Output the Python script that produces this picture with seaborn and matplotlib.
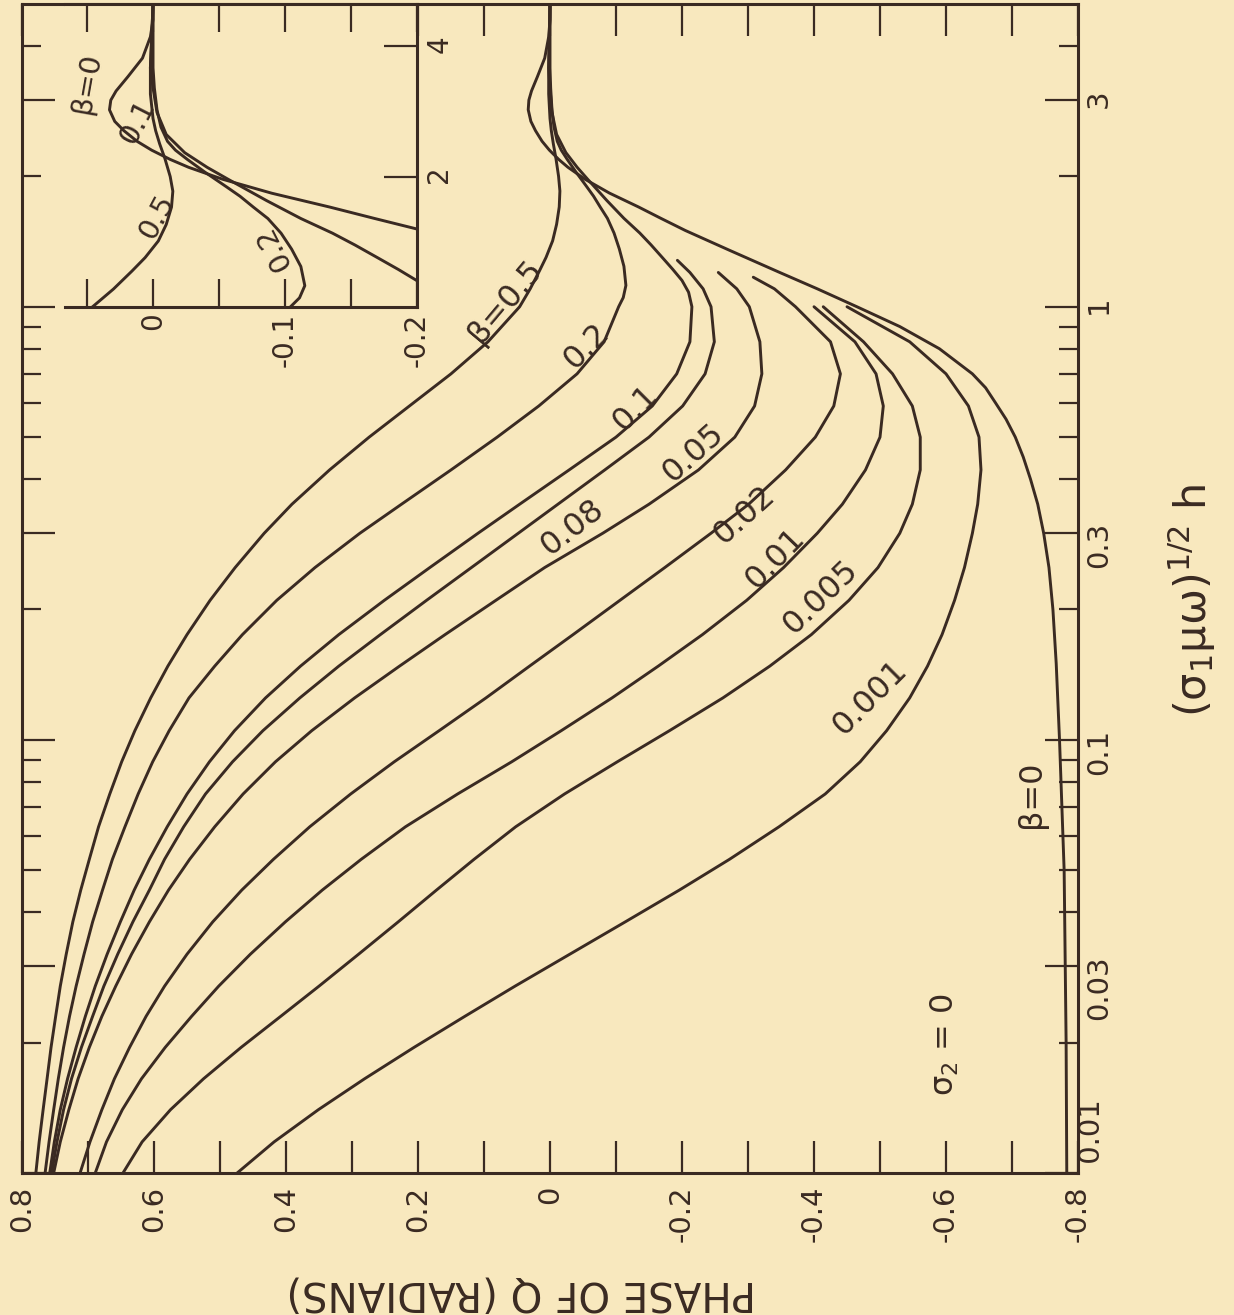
import matplotlib
matplotlib.use("Agg")
import matplotlib.pyplot as plt
import seaborn as sns
import pandas as pd
from matplotlib.ticker import FixedLocator, FixedFormatter, NullFormatter

BG = "#F8E8BE"
INK = "#3A2A22"

# ---- data: h = (sigma1*mu*omega)^1/2 h, phase of Q in radians ----
h_grid = [0.01, 0.0118, 0.014, 0.0165, 0.0195, 0.023, 0.027, 0.032, 0.038, 0.045, 0.053, 0.063, 0.075,
          0.089, 0.105, 0.125, 0.148, 0.175, 0.21, 0.25, 0.3, 0.35, 0.42, 0.5, 0.59, 0.7, 0.83, 1.0]

h_b0 = [0.01, 0.02, 0.05, 0.1, 0.15, 0.2, 0.25, 0.3, 0.35, 0.4, 0.45, 0.5, 0.55, 0.6, 0.65, 0.7, 0.8, 0.9,
        1.0, 1.1, 1.2, 1.35, 1.5, 1.6, 1.7, 1.83, 1.97, 2.1, 2.19, 2.3, 2.41, 2.55, 2.68, 2.85, 3.0, 3.15,
        3.4, 3.75, 4.2, 4.6, 5.0]
p_b0 = [-0.783, -0.782, -0.779, -0.772, -0.767, -0.762, -0.756, -0.748, -0.739, -0.728, -0.717, -0.705,
        -0.691, -0.675, -0.660, -0.640, -0.590, -0.530, -0.465, -0.405, -0.348, -0.272, -0.205, -0.168,
        -0.134, -0.090, -0.053, -0.027, -0.013, 0.001, 0.012, 0.022, 0.029, 0.033, 0.032, 0.028, 0.019,
        0.008, 0.002, 0.0, 0.0]

p_b0001 = [0.474, 0.418, 0.351, 0.281, 0.206, 0.129, 0.053, -0.030, -0.114, -0.196, -0.272, -0.347, -0.417,
           -0.470, -0.510, -0.545, -0.572, -0.594, -0.613, -0.628, -0.640, -0.648, -0.653, -0.650, -0.634,
           -0.600, -0.545, -0.450]

p_b0005 = [0.647, 0.618, 0.575, 0.525, 0.468, 0.408, 0.350, 0.290, 0.230, 0.172, 0.115, 0.052, -0.022,
           -0.102, -0.181, -0.262, -0.333, -0.396, -0.453, -0.497, -0.530, -0.549, -0.561, -0.561, -0.549,
           -0.519, -0.475, -0.414]

p_b001 = [0.689, 0.672, 0.648, 0.619, 0.583, 0.543, 0.502, 0.454, 0.401, 0.345, 0.286, 0.219, 0.140,
          0.058, -0.017, -0.094, -0.164, -0.231, -0.298, -0.354, -0.405, -0.443, -0.478, -0.500, -0.505,
          -0.494, -0.462, -0.400]

p_b002 = [0.712, 0.697, 0.679, 0.660, 0.637, 0.612, 0.584, 0.550, 0.511, 0.467, 0.419, 0.364, 0.302,
          0.236, 0.168, 0.097, 0.031, -0.035, -0.106, -0.174, -0.244, -0.301, -0.357, -0.402, -0.430,
          -0.440, -0.425, -0.372]
h_b002_top = [1.1, 1.17]
p_b002_top = [-0.340, -0.308]

p_b005 = [0.752, 0.742, 0.729, 0.715, 0.698, 0.679, 0.658, 0.634, 0.607, 0.578, 0.546, 0.508, 0.465,
          0.416, 0.361, 0.296, 0.228, 0.159, 0.082, 0.008, -0.080, -0.150, -0.225, -0.280, -0.310,
          -0.321, -0.318, -0.302]
h_b005_top = [1.1, 1.2]
p_b005_top = [-0.283, -0.255]

p_b008 = [0.755, 0.747, 0.737, 0.725, 0.710, 0.693, 0.676, 0.655, 0.632, 0.607, 0.584, 0.555, 0.522,
          0.481, 0.435, 0.379, 0.320, 0.257, 0.187, 0.119, 0.048, -0.012, -0.083, -0.150, -0.201,
          -0.235, -0.249, -0.244]
h_b008_top = [1.1, 1.2, 1.28]
p_b008_top = [-0.232, -0.212, -0.193]

p_b01 = [0.758, 0.751, 0.742, 0.731, 0.718, 0.704, 0.689, 0.671, 0.651, 0.630, 0.607, 0.580, 0.550,
         0.516, 0.478, 0.431, 0.378, 0.320, 0.251, 0.182, 0.109, 0.046, -0.029, -0.100, -0.155, -0.192,
         -0.212, -0.215]
h_b01_top = [1.08, 1.15, 1.22, 1.3, 1.39, 1.48, 1.6, 1.76, 1.97, 2.1, 2.27, 2.5, 2.81, 3.2, 3.56, 4.2, 5.0]
p_b01_top = [-0.210, -0.200, -0.186, -0.170, -0.153, -0.136, -0.112, -0.086, -0.057, -0.041, -0.024,
             -0.010, -0.003, 0.0, 0.002, 0.001, 0.0]

p_b02 = [0.765, 0.759, 0.752, 0.745, 0.737, 0.728, 0.718, 0.706, 0.693, 0.678, 0.663, 0.644, 0.624,
         0.602, 0.577, 0.547, 0.508, 0.466, 0.414, 0.356, 0.288, 0.225, 0.150, 0.080, 0.017, -0.041,
         -0.082, -0.104]
h_b02_top = [1.05, 1.12, 1.24, 1.36, 1.48, 1.6, 1.7, 1.8, 1.89, 2.05, 2.19, 2.3, 2.41, 2.6, 2.85, 3.2,
             3.56, 5.0]
p_b02_top = [-0.111, -0.115, -0.112, -0.105, -0.097, -0.087, -0.076, -0.066, -0.056, -0.039, -0.026,
             -0.017, -0.011, -0.006, -0.003, -0.001, 0.0, 0.0]

p_b05 = [0.779, 0.774, 0.768, 0.762, 0.756, 0.749, 0.742, 0.733, 0.723, 0.711, 0.698, 0.684, 0.667,
         0.649, 0.629, 0.605, 0.579, 0.550, 0.515, 0.477, 0.433, 0.391, 0.334, 0.274, 0.213, 0.150,
         0.094, 0.046]
h_b05_top = [1.1, 1.21, 1.3, 1.42, 1.55, 1.7, 1.85, 2.0, 2.2, 2.38, 2.55, 2.72, 3.1, 3.56, 4.2, 5.0]
p_b05_top = [0.030, 0.016, 0.006, -0.004, -0.010, -0.014, -0.015, -0.013, -0.009, -0.005, -0.002, 0.0,
             0.002, 0.002, 0.001, 0.0]

betas = [0.0, 0.001, 0.005, 0.01, 0.02, 0.05, 0.08, 0.1, 0.2, 0.5]
curve_h = [h_b0, h_grid, h_grid, h_grid, h_grid + h_b002_top, h_grid + h_b005_top, h_grid + h_b008_top,
           h_grid + h_b01_top, h_grid + h_b02_top, h_grid + h_b05_top]
curve_p = [p_b0, p_b0001, p_b0005, p_b001, p_b002 + p_b002_top, p_b005 + p_b005_top, p_b008 + p_b008_top,
           p_b01 + p_b01_top, p_b02 + p_b02_top, p_b05 + p_b05_top]
inset_betas = [0.0, 0.1, 0.2, 0.5]

# curve labels: text, phase, h, rotation
main_labels = [("β=0.5", 0.067, 1.03, 50), ("0.2", -0.056, 0.81, 45), ("0.1", -0.130, 0.585, 45),
               ("0.05", -0.217, 0.46, 42), ("0.08", -0.035, 0.309, 38), ("0.02", -0.295, 0.331, 42),
               ("0.01", -0.341, 0.263, 46), ("0.005", -0.411, 0.214, 44), ("0.001", -0.485, 0.125, 45),
               ("β=0", -0.729, 0.075, 90)]
inset_labels = [("β=0", 0.050, 3.29, 80), ("0.1", 0.012, 2.67, 63), ("0.5", -0.003, 1.61, 62),
                ("0.2", -0.091, 1.37, 117)]

phase_ticks = [0.8, 0.6, 0.4, 0.2, 0.0, -0.2, -0.4, -0.6, -0.8]
phase_tick_labels = ["0.8", "0.6", "0.4", "0.2", "0", "-0.2", "-0.4", "-0.6", "-0.8"]
phase_minor = [0.7, 0.5, 0.3, 0.1, -0.1, -0.3, -0.5, -0.7]
h_major = [0.01, 0.03, 0.1, 0.3, 1, 3]
h_major_labels = ["", "0.03", "0.1", "0.3", "1", "3"]
h_minor = [0.02, 0.04, 0.05, 0.06, 0.07, 0.08, 0.09, 0.2, 0.4, 0.5, 0.6, 0.7, 0.8, 0.9, 2, 4]
in_phase_ticks = [0.05, 0.0, -0.05, -0.1, -0.15, -0.2]
in_phase_labels = ["", "0", "", "-0.1", "", "-0.2"]
in_h_ticks = [2, 4]
in_h_labels = ["2", "4"]

rows = []
for b, hs, ps in zip(betas, curve_h, curve_p):
    for hh, pp in zip(hs, ps):
        rows.append((b, hh, pp))
df = pd.DataFrame(rows, columns=["beta", "h", "phase"])

# ---- style ----
sns.set_theme(style="white")
plt.rcParams["font.family"] = ["DejaVu Sans"]
plt.rcParams["mathtext.default"] = "regular"
plt.rcParams["axes.edgecolor"] = INK
plt.rcParams["text.color"] = INK
TICK_SIZE = 21

W, H = 1234, 1315
fig = plt.figure(figsize=(W / 100, H / 100), dpi=100)
fig.patch.set_facecolor(BG)

L, R, T, B = 22, 1078, 4, 1173
ax = fig.add_axes([L / W, 1 - B / H, (R - L) / W, (B - T) / H])
ax.set_facecolor(BG)
ax.set_yscale("log")
sns.lineplot(data=df, x="phase", y="h", units="beta", estimator=None, sort=False,
             color=INK, linewidth=2.1, ax=ax, legend=False)
ax.set_xlim(0.8, -0.8)
ax.set_ylim(0.01, 5)
ax.set_xlabel("")
ax.set_ylabel("")
for s in ax.spines.values():
    s.set_linewidth(2.2)
    s.set_color(INK)

ax.xaxis.set_major_locator(FixedLocator(phase_ticks))
ax.xaxis.set_major_formatter(FixedFormatter(phase_tick_labels))
ax.xaxis.set_minor_locator(FixedLocator(phase_minor))
ax.xaxis.set_minor_formatter(NullFormatter())
ax.tick_params(axis="x", which="both", direction="in", length=23, width=1.6, color=INK,
               top=True, bottom=True, labeltop=False, labelbottom=True, labelrotation=90, pad=9,
               labelcolor=INK, labelsize=TICK_SIZE)
ax.yaxis.set_major_locator(FixedLocator(h_major))
ax.yaxis.set_major_formatter(FixedFormatter(h_major_labels))
ax.yaxis.set_minor_locator(FixedLocator(h_minor))
ax.yaxis.set_minor_formatter(NullFormatter())
ax.tick_params(axis="y", which="major", direction="in", length=24, width=1.6, color=INK,
               left=True, right=True, labelleft=False, labelright=True, labelrotation=90, pad=5,
               labelcolor=INK, labelsize=TICK_SIZE)
ax.tick_params(axis="y", which="minor", direction="in", length=13.5, width=1.6, color=INK,
               left=True, right=True)
ax.text(1.0, 0.01, " 0.01", transform=ax.get_yaxis_transform(), rotation=90, ha="left", va="bottom",
        fontsize=TICK_SIZE, color=INK)

for txt, px, py, rot in main_labels:
    ax.text(px, py, txt, rotation=rot, ha="center", va="center", fontsize=23, color=INK,
            rotation_mode="anchor")
ax.text(-0.598, 0.0198, r"$\sigma_2$ = 0", rotation=90, ha="center", va="center", fontsize=23, color=INK)

# ---- inset ----
IL, IR, IB = 65, 417, 307
axin = fig.add_axes([IL / W, 1 - IB / H, (IR - IL) / W, (IB - T) / H])
axin.set_facecolor(BG)
axin.set_yscale("log")
sub = df[df["beta"].isin(inset_betas) & (df["h"] >= 0.8)]
sns.lineplot(data=sub, x="phase", y="h", units="beta", estimator=None, sort=False,
             color=INK, linewidth=2.1, ax=axin, legend=False)
axin.set_xlim(0.0667, -0.2)
axin.set_ylim(1, 5)
axin.set_xlabel("")
axin.set_ylabel("")
axin.spines["left"].set_visible(False)
for k in ["bottom", "right", "top"]:
    axin.spines[k].set_linewidth(2.2)
    axin.spines[k].set_color(INK)
axin.xaxis.set_major_locator(FixedLocator(in_phase_ticks))
axin.xaxis.set_major_formatter(FixedFormatter(in_phase_labels))
axin.tick_params(axis="x", which="both", direction="in", length=20, width=1.6, color=INK,
                 top=True, bottom=True, labeltop=False, labelbottom=True, labelrotation=90, pad=4,
                 labelcolor=INK, labelsize=TICK_SIZE - 1)
axin.yaxis.set_major_locator(FixedLocator(in_h_ticks))
axin.yaxis.set_major_formatter(FixedFormatter(in_h_labels))
axin.yaxis.set_minor_locator(FixedLocator([]))
axin.tick_params(axis="y", which="both", direction="in", length=24, width=1.6, color=INK,
                 left=False, right=True, labelleft=False, labelright=True, labelrotation=90, pad=6,
                 labelcolor=INK, labelsize=TICK_SIZE - 1)
for txt, px, py, rot in inset_labels:
    axin.text(px, py, txt, rotation=rot, ha="center", va="center", fontsize=21, color=INK,
              rotation_mode="anchor")

# ---- axis titles (rotated as on the scanned page) ----
fig.text(521 / W, 1 - 1292 / H, "PHASE OF Q (RADIANS)", rotation=180, ha="center", va="center",
         fontsize=29, color=INK)
fig.text(1192 / W, 1 - 600 / H, r"(σ$_1$μω)$^{1/2}$ h", rotation=90, ha="center", va="center",
         fontsize=31, color=INK)

fig.savefig("out.png", dpi=100, facecolor=BG)
